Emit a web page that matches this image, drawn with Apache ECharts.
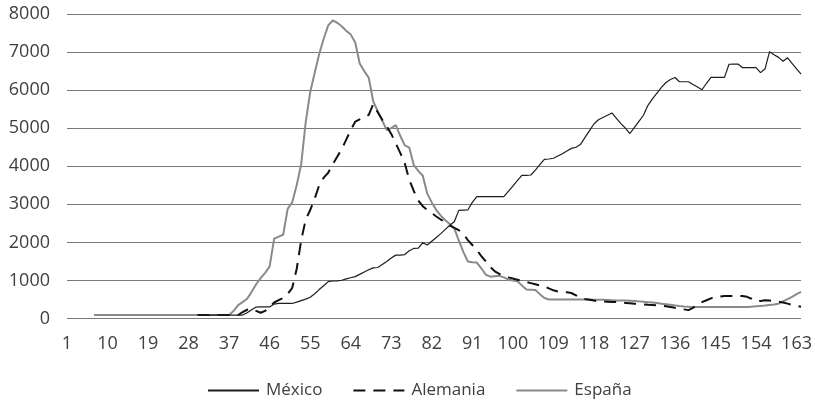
<!DOCTYPE html>
<html>
<head>
<meta charset="utf-8">
<script src="https://cdn.jsdelivr.net/npm/echarts@6/dist/echarts.min.js"></script>
<style>
  html, body { margin: 0; padding: 0; background: #ffffff; }
  #chart { width: 815px; height: 417px; }
</style>
</head>
<body>
<div id="chart"></div>
<script>
// Day index categories 1..164
const dayCount = 164;
const categories = Array.from({ length: dayCount }, (_, i) => String(i + 1));

const seriesNames = ['México', 'Alemania', 'España'];

const mexico = [
  null,null,null,null,null,null,null,null,null,null,
  null,null,null,null,null,null,null,null,null,null,
  null,null,null,null,null,null,null,null,null,90,
  90,90,90,90,90,90,90,90,90,90,
  150,230,300,305,305,305,380,395,395,395,
  395,430,470,510,560,650,760,860,970,985,
  990,1005,1040,1070,1100,1160,1220,1280,1330,1340,
  1420,1500,1590,1665,1665,1680,1780,1840,1850,1990,
  1930,2030,2130,2230,2340,2450,2540,2840,2845,2850,
  3050,3200,3200,3200,3200,3200,3200,3200,3340,3480,
  3620,3760,3760,3770,3900,4040,4180,4190,4210,4270,
  4330,4400,4470,4500,4570,4750,4930,5110,5220,5280,
  5340,5400,5260,5120,5000,4860,5020,5180,5340,5600,
  5770,5920,6070,6200,6280,6330,6220,6220,6220,6150,
  6080,6010,6180,6335,6335,6335,6335,6680,6685,6685,
  6590,6590,6590,6590,6460,6560,7010,6930,6860,6760,
  6850,6700,6560,6420
];

const alemania = [
  null,null,null,null,null,null,null,null,null,null,
  null,null,null,null,null,null,null,null,null,null,
  null,null,null,null,null,null,null,null,null,90,
  90,90,90,90,90,90,90,90,90,170,
  230,260,200,150,200,300,420,480,540,650,
  800,1300,2050,2600,2850,3150,3500,3700,3830,4050,
  4250,4450,4700,4950,5170,5230,5280,5350,5630,5420,
  5220,5050,4850,4600,4350,4080,3650,3350,3100,2950,
  2850,2770,2680,2600,2530,2440,2380,2320,2230,2060,
  1930,1800,1640,1500,1350,1240,1170,1120,1080,1050,
  1020,990,960,930,900,870,850,790,740,710,
  700,690,670,610,540,510,490,470,455,445,
  440,435,430,420,410,400,390,380,370,360,
  355,350,340,320,300,280,260,240,220,280,
  360,430,480,530,570,580,590,590,590,590,
  590,570,520,450,460,480,470,460,440,420,
  390,360,330,310
];

const espana = [
  null,null,null,null,null,null,90,90,90,90,
  90,90,90,90,90,90,90,90,90,90,
  90,90,90,90,90,90,90,90,90,90,
  90,90,90,90,90,90,90,200,350,430,
  520,700,900,1060,1200,1370,2100,2150,2200,2880,
  3050,3500,4050,5150,5950,6450,6950,7350,7700,7830,
  7770,7680,7560,7460,7250,6700,6500,6330,5700,5450,
  5200,4950,5000,5080,4800,4550,4490,4030,3880,3750,
  3280,3050,2850,2700,2580,2480,2370,2050,1750,1500,
  1480,1470,1320,1150,1100,1110,1120,1080,1020,1000,
  980,870,760,757,750,640,540,500,500,500,
  500,500,500,500,500,500,500,495,490,490,
  485,480,475,470,470,465,460,450,440,430,
  420,405,390,375,360,345,330,318,308,300,
  300,300,300,300,300,300,300,300,300,300,
  300,300,310,320,330,340,355,370,390,450,
  510,570,640,700
];

const yTicks = { min: 0, max: 8000, interval: 1000 };

const FONT = "'Open Sans', 'Noto Sans', sans-serif";
const TEXT = '#404040';

const chart = echarts.init(document.getElementById('chart'), null, { renderer: 'canvas' });
chart.setOption({
  animation: false,
  backgroundColor: '#ffffff',
  textStyle: { fontFamily: FONT, color: TEXT },
  grid: { left: 67, right: 12, top: 14, bottom: 98.5, containLabel: false },
  legend: {
    data: seriesNames,
    left: 202,
    top: 377,
    itemWidth: 51,
    itemHeight: 14,
    itemGap: 30,
    itemStyle: { opacity: 0 },
    textStyle: { fontFamily: FONT, fontSize: 17, color: TEXT, padding: [0, 0, 0, 2] }
  },
  xAxis: {
    type: 'category',
    data: categories,
    boundaryGap: false,
    axisLine: { show: false },
    axisTick: { show: false },
    splitLine: { show: false },
    axisLabel: {
      interval: 8,
      margin: 16,
      fontFamily: FONT,
      fontSize: 18,
      color: TEXT
    }
  },
  yAxis: {
    type: 'value',
    min: yTicks.min,
    max: yTicks.max,
    interval: yTicks.interval,
    axisLine: { show: false },
    axisTick: { show: false },
    splitLine: { show: true, lineStyle: { color: '#7a7a7a', width: 1 } },
    axisLabel: {
      margin: 17,
      fontFamily: FONT,
      fontSize: 18,
      color: TEXT,
      formatter: (v) => String(v)
    }
  },
  series: [
    {
      name: seriesNames[0],
      type: 'line',
      data: mexico,
      symbol: 'none',
      showSymbol: false,
      lineStyle: { color: '#1e1e1e', width: 1.2, type: 'solid' },
      itemStyle: { color: '#1e1e1e' },
      z: 4
    },
    {
      name: seriesNames[1],
      type: 'line',
      data: alemania,
      symbol: 'none',
      showSymbol: false,
      lineStyle: { color: '#111111', width: 2, type: [12, 8] },
      itemStyle: { color: '#111111' },
      z: 3
    },
    {
      name: seriesNames[2],
      type: 'line',
      data: espana,
      symbol: 'none',
      showSymbol: false,
      lineStyle: { color: '#8a8a8a', width: 2, type: 'solid' },
      itemStyle: { color: '#8a8a8a' },
      z: 2
    }
  ]
});
</script>
</body>
</html>
